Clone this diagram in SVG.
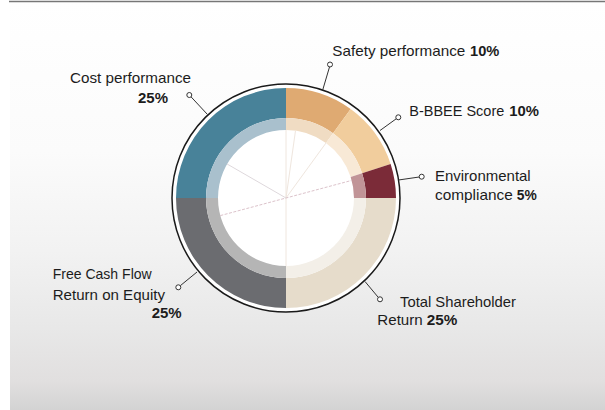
<svg xmlns="http://www.w3.org/2000/svg" width="605" height="410" viewBox="0 0 605 410">
<style>
text{font-family:"Liberation Sans",Arial,sans-serif;font-size:15px;fill:#1c1c1c}
.b{font-weight:bold}
.lead{stroke:#333;stroke-width:1;fill:none}
.dot{fill:#fff;stroke:#333;stroke-width:1}
.axis{stroke:#efe6de;stroke-width:1;fill:none}
</style>
<defs>
<linearGradient id="bg" x1="0" y1="0" x2="0" y2="410" gradientUnits="userSpaceOnUse">
<stop offset="0" stop-color="#ffffff"/>
<stop offset="0.37" stop-color="#fbfbfb"/>
<stop offset="0.61" stop-color="#f2f2f2"/>
<stop offset="0.8" stop-color="#e8e8e8"/>
<stop offset="0.93" stop-color="#e1dfdf"/>
<stop offset="1" stop-color="#d3d3d3"/>
</linearGradient>
</defs>
<rect x="0" y="0" width="605" height="410" fill="#fff"/>
<rect x="10" y="3" width="595" height="407" fill="url(#bg)"/>
<line x1="9" y1="1.5" x2="605" y2="1.5" stroke="#777" stroke-width="1.5"/>

<circle cx="286" cy="198" r="114" fill="#fff" stroke="#1a1a1a" stroke-width="1.5"/>

<g id="safety">
<path d="M286,88 A110,110 0 0 1 350.66,109.01 L333.02,133.28 A80,80 0 0 0 286,118 Z" fill="#dfaa72"/>
<path d="M286,118 A80,80 0 0 1 333.02,133.28 L325.97,142.99 A68,68 0 0 0 286,130 Z" fill="#f0dcc3"/>
<text x="332.3" y="55.5" textLength="133" lengthAdjust="spacingAndGlyphs">Safety performance</text>
<text class="b" x="470" y="55.5" textLength="29.3" lengthAdjust="spacingAndGlyphs">10%</text>
</g>
<g id="bbbee">
<path d="M350.66,109.01 A110,110 0 0 1 390.62,164.01 L362.09,173.28 A80,80 0 0 0 333.02,133.28 Z" fill="#f1cd9d"/>
<path d="M333.02,133.28 A80,80 0 0 1 362.09,173.28 L350.67,176.99 A68,68 0 0 0 325.97,142.99 Z" fill="#f8e9d6"/>
<text x="409.3" y="116" textLength="95" lengthAdjust="spacingAndGlyphs">B-BBEE Score</text>
<text class="b" x="509.3" y="116" textLength="29.7" lengthAdjust="spacingAndGlyphs">10%</text>
</g>
<g id="environmental">
<path d="M390.62,164.01 A110,110 0 0 1 396,198 L366,198 A80,80 0 0 0 362.09,173.28 Z" fill="#7b2b38"/>
<path d="M362.09,173.28 A80,80 0 0 1 366,198 L354,198 A68,68 0 0 0 350.67,176.99 Z" fill="#c19497"/>
<text x="435" y="181" textLength="95.7" lengthAdjust="spacingAndGlyphs">Environmental</text>
<text x="435" y="200" textLength="77.7" lengthAdjust="spacingAndGlyphs">compliance</text>
<text class="b" x="516.7" y="200" textLength="20" lengthAdjust="spacingAndGlyphs">5%</text>
</g>
<g id="tsr">
<path d="M396,198 A110,110 0 0 1 286,308 L286,278 A80,80 0 0 0 366,198 Z" fill="#e6dccb"/>
<path d="M366,198 A80,80 0 0 1 286,278 L286,266 A68,68 0 0 0 354,198 Z" fill="#f3efe8"/>
<text x="400" y="306.7" textLength="116" lengthAdjust="spacingAndGlyphs">Total Shareholder</text>
<text x="377.3" y="325" textLength="45.4" lengthAdjust="spacingAndGlyphs">Return</text>
<text class="b" x="426.7" y="325" textLength="30.6" lengthAdjust="spacingAndGlyphs">25%</text>
</g>
<g id="fcf">
<path d="M286,308 A110,110 0 0 1 176,198 L206,198 A80,80 0 0 0 286,278 Z" fill="#6b6c70"/>
<path d="M286,278 A80,80 0 0 1 206,198 L218,198 A68,68 0 0 0 286,266 Z" fill="#b5b5b5"/>
<text x="52.7" y="279" textLength="99" lengthAdjust="spacingAndGlyphs">Free Cash Flow</text>
<text x="52.7" y="300" textLength="112.3" lengthAdjust="spacingAndGlyphs">Return on Equity</text>
<text class="b" x="151.7" y="318.3" textLength="30" lengthAdjust="spacingAndGlyphs">25%</text>
</g>
<g id="cost">
<path d="M176,198 A110,110 0 0 1 286,88 L286,118 A80,80 0 0 0 206,198 Z" fill="#488299"/>
<path d="M206,198 A80,80 0 0 1 286,118 L286,130 A68,68 0 0 0 218,198 Z" fill="#a9c0cd"/>
<text x="70" y="82.7" textLength="121" lengthAdjust="spacingAndGlyphs">Cost performance</text>
<text class="b" x="138" y="103.3" textLength="30" lengthAdjust="spacingAndGlyphs">25%</text>
</g>

<g id="axes">
<line class="axis" x1="286" y1="130" x2="286" y2="266"/>
<line class="axis" x1="286" y1="198" x2="295.5" y2="130.7"/>
<line class="axis" x1="286" y1="198" x2="325.97" y2="142.99"/>
<line x1="220.3" y1="215.6" x2="351.7" y2="180.4" stroke="#dcc3cb" stroke-width="1" stroke-dasharray="3,1.5"/>
<line x1="286" y1="198" x2="227.1" y2="164" stroke="#ded8dc" stroke-width="1"/>
</g>

<g id="connectors">
<line class="lead" x1="322.7" y1="90" x2="329.5" y2="67"/>
<circle class="dot" cx="330" cy="64.5" r="2.5"/>
<line class="lead" x1="380" y1="130.5" x2="396.2" y2="118.8"/>
<circle class="dot" cx="398.3" cy="117.3" r="2.5"/>
<line class="lead" x1="398.5" y1="180" x2="419.2" y2="177"/>
<circle class="dot" cx="421.7" cy="176.7" r="2.5"/>
<line class="lead" x1="365" y1="281.5" x2="378.3" y2="297.4"/>
<circle class="dot" cx="380" cy="299.3" r="2.5"/>
<line class="lead" x1="197" y1="272" x2="180.3" y2="285.7"/>
<circle class="dot" cx="178.3" cy="287.3" r="2.5"/>
<line class="lead" x1="207.5" y1="114.5" x2="191" y2="96.8"/>
<circle class="dot" cx="189.3" cy="95" r="2.5"/>
</g>
</svg>
